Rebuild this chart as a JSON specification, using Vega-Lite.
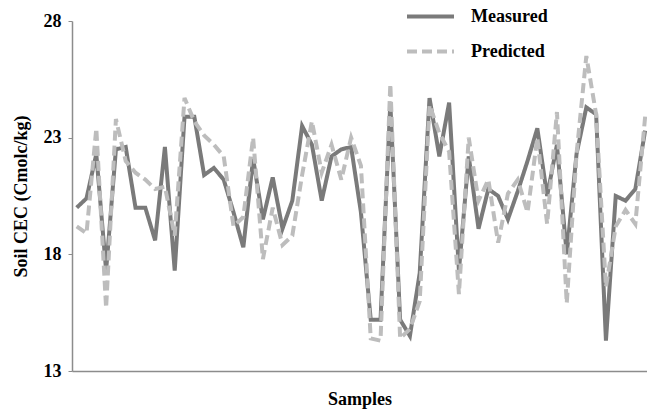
{
  "$schema": "https://vega.github.io/schema/vega-lite/v6.json",
  "width": 575,
  "height": 350,
  "autosize": {"type": "none"},
  "padding": {"left": 72, "top": 21, "right": 0, "bottom": 40},
  "background": "white",
  "config": {
    "view": {"stroke": null},
    "font": "Liberation Serif"
  },
  "datasets": {
    "cec": [
      {"sample": 1, "series": "Measured", "value": 20.0},
      {"sample": 2, "series": "Measured", "value": 20.4},
      {"sample": 3, "series": "Measured", "value": 22.3},
      {"sample": 4, "series": "Measured", "value": 17.3},
      {"sample": 5, "series": "Measured", "value": 22.5},
      {"sample": 6, "series": "Measured", "value": 22.6},
      {"sample": 7, "series": "Measured", "value": 20.0},
      {"sample": 8, "series": "Measured", "value": 20.0},
      {"sample": 9, "series": "Measured", "value": 18.6},
      {"sample": 10, "series": "Measured", "value": 22.6},
      {"sample": 11, "series": "Measured", "value": 17.3},
      {"sample": 12, "series": "Measured", "value": 23.9},
      {"sample": 13, "series": "Measured", "value": 23.9},
      {"sample": 14, "series": "Measured", "value": 21.4},
      {"sample": 15, "series": "Measured", "value": 21.7},
      {"sample": 16, "series": "Measured", "value": 21.2},
      {"sample": 17, "series": "Measured", "value": 19.8},
      {"sample": 18, "series": "Measured", "value": 18.3},
      {"sample": 19, "series": "Measured", "value": 22.1},
      {"sample": 20, "series": "Measured", "value": 19.5},
      {"sample": 21, "series": "Measured", "value": 21.3},
      {"sample": 22, "series": "Measured", "value": 19.1},
      {"sample": 23, "series": "Measured", "value": 20.3},
      {"sample": 24, "series": "Measured", "value": 23.5},
      {"sample": 25, "series": "Measured", "value": 22.7},
      {"sample": 26, "series": "Measured", "value": 20.3},
      {"sample": 27, "series": "Measured", "value": 22.2},
      {"sample": 28, "series": "Measured", "value": 22.5},
      {"sample": 29, "series": "Measured", "value": 22.6},
      {"sample": 30, "series": "Measured", "value": 19.8},
      {"sample": 31, "series": "Measured", "value": 15.2},
      {"sample": 32, "series": "Measured", "value": 15.2},
      {"sample": 33, "series": "Measured", "value": 24.5},
      {"sample": 34, "series": "Measured", "value": 15.2},
      {"sample": 35, "series": "Measured", "value": 14.5},
      {"sample": 36, "series": "Measured", "value": 17.2},
      {"sample": 37, "series": "Measured", "value": 24.7},
      {"sample": 38, "series": "Measured", "value": 22.2},
      {"sample": 39, "series": "Measured", "value": 24.5},
      {"sample": 40, "series": "Measured", "value": 17.3},
      {"sample": 41, "series": "Measured", "value": 22.2},
      {"sample": 42, "series": "Measured", "value": 19.1},
      {"sample": 43, "series": "Measured", "value": 20.8},
      {"sample": 44, "series": "Measured", "value": 20.5},
      {"sample": 45, "series": "Measured", "value": 19.5},
      {"sample": 46, "series": "Measured", "value": 20.7},
      {"sample": 47, "series": "Measured", "value": 22.0},
      {"sample": 48, "series": "Measured", "value": 23.4},
      {"sample": 49, "series": "Measured", "value": 20.5},
      {"sample": 50, "series": "Measured", "value": 22.7},
      {"sample": 51, "series": "Measured", "value": 18.0},
      {"sample": 52, "series": "Measured", "value": 22.3},
      {"sample": 53, "series": "Measured", "value": 24.3},
      {"sample": 54, "series": "Measured", "value": 24.0},
      {"sample": 55, "series": "Measured", "value": 14.3},
      {"sample": 56, "series": "Measured", "value": 20.5},
      {"sample": 57, "series": "Measured", "value": 20.3},
      {"sample": 58, "series": "Measured", "value": 20.8},
      {"sample": 59, "series": "Measured", "value": 23.3},
      {"sample": 1, "series": "Predicted", "value": 19.2},
      {"sample": 2, "series": "Predicted", "value": 18.9},
      {"sample": 3, "series": "Predicted", "value": 23.4},
      {"sample": 4, "series": "Predicted", "value": 15.7},
      {"sample": 5, "series": "Predicted", "value": 23.8},
      {"sample": 6, "series": "Predicted", "value": 22.0},
      {"sample": 7, "series": "Predicted", "value": 21.5},
      {"sample": 8, "series": "Predicted", "value": 21.2},
      {"sample": 9, "series": "Predicted", "value": 20.8},
      {"sample": 10, "series": "Predicted", "value": 20.9},
      {"sample": 11, "series": "Predicted", "value": 18.8},
      {"sample": 12, "series": "Predicted", "value": 24.7},
      {"sample": 13, "series": "Predicted", "value": 23.7},
      {"sample": 14, "series": "Predicted", "value": 23.1},
      {"sample": 15, "series": "Predicted", "value": 22.7},
      {"sample": 16, "series": "Predicted", "value": 22.2},
      {"sample": 17, "series": "Predicted", "value": 19.2},
      {"sample": 18, "series": "Predicted", "value": 19.6},
      {"sample": 19, "series": "Predicted", "value": 23.0},
      {"sample": 20, "series": "Predicted", "value": 17.8},
      {"sample": 21, "series": "Predicted", "value": 20.0},
      {"sample": 22, "series": "Predicted", "value": 18.4},
      {"sample": 23, "series": "Predicted", "value": 18.8},
      {"sample": 24, "series": "Predicted", "value": 21.4},
      {"sample": 25, "series": "Predicted", "value": 23.7},
      {"sample": 26, "series": "Predicted", "value": 21.5},
      {"sample": 27, "series": "Predicted", "value": 22.7},
      {"sample": 28, "series": "Predicted", "value": 21.2},
      {"sample": 29, "series": "Predicted", "value": 23.0},
      {"sample": 30, "series": "Predicted", "value": 21.8},
      {"sample": 31, "series": "Predicted", "value": 14.4},
      {"sample": 32, "series": "Predicted", "value": 14.3},
      {"sample": 33, "series": "Predicted", "value": 25.3},
      {"sample": 34, "series": "Predicted", "value": 14.4},
      {"sample": 35, "series": "Predicted", "value": 14.8},
      {"sample": 36, "series": "Predicted", "value": 16.0},
      {"sample": 37, "series": "Predicted", "value": 24.4},
      {"sample": 38, "series": "Predicted", "value": 23.2},
      {"sample": 39, "series": "Predicted", "value": 22.4},
      {"sample": 40, "series": "Predicted", "value": 16.3},
      {"sample": 41, "series": "Predicted", "value": 23.0},
      {"sample": 42, "series": "Predicted", "value": 20.3},
      {"sample": 43, "series": "Predicted", "value": 21.2},
      {"sample": 44, "series": "Predicted", "value": 18.5},
      {"sample": 45, "series": "Predicted", "value": 20.6},
      {"sample": 46, "series": "Predicted", "value": 21.2},
      {"sample": 47, "series": "Predicted", "value": 19.8},
      {"sample": 48, "series": "Predicted", "value": 23.0},
      {"sample": 49, "series": "Predicted", "value": 19.3},
      {"sample": 50, "series": "Predicted", "value": 24.1},
      {"sample": 51, "series": "Predicted", "value": 15.9},
      {"sample": 52, "series": "Predicted", "value": 22.3},
      {"sample": 53, "series": "Predicted", "value": 26.5},
      {"sample": 54, "series": "Predicted", "value": 24.0},
      {"sample": 55, "series": "Predicted", "value": 16.6},
      {"sample": 56, "series": "Predicted", "value": 19.2},
      {"sample": 57, "series": "Predicted", "value": 19.9},
      {"sample": 58, "series": "Predicted", "value": 19.3},
      {"sample": 59, "series": "Predicted", "value": 23.9}
    ]
  },
  "data": {"name": "cec"},
  "mark": {"type": "line", "strokeWidth": 4, "clip": false},
  "encoding": {
    "x": {
      "field": "sample",
      "type": "quantitative",
      "scale": {"domain": [0.52, 59.19], "nice": false, "zero": false},
      "axis": {
        "title": "Samples",
        "titleFont": "Liberation Serif",
        "titleFontWeight": "bold",
        "titleFontSize": 18,
        "titleColor": "black",
        "titlePadding": 19,
        "labels": false,
        "ticks": false,
        "grid": false,
        "domainColor": "#8c8c8c",
        "domainWidth": 1.5
      }
    },
    "y": {
      "field": "value",
      "type": "quantitative",
      "scale": {"domain": [13, 28], "nice": false, "zero": false},
      "axis": {
        "title": "Soil CEC (Cmolc/kg)",
        "titleFont": "Liberation Serif",
        "titleFontWeight": "bold",
        "titleFontSize": 18,
        "titleColor": "black",
        "titlePadding": 13,
        "values": [13, 18, 23, 28],
        "labelFont": "Liberation Serif",
        "labelFontWeight": "bold",
        "labelFontSize": 18,
        "labelColor": "black",
        "labelPadding": 7,
        "tickSize": 4,
        "tickColor": "#8c8c8c",
        "domainColor": "#8c8c8c",
        "domainWidth": 1.5,
        "grid": false
      }
    },
    "color": {
      "field": "series",
      "type": "nominal",
      "scale": {"domain": ["Measured", "Predicted"], "range": ["#7a7a7a", "#bdbdbd"]},
      "legend": {
        "title": null,
        "orient": "none",
        "legendX": 333,
        "legendY": -30,
        "symbolType": "stroke",
        "symbolSize": 2209,
        "symbolStrokeWidth": 4,
        "labelFont": "Liberation Serif",
        "labelFontWeight": "bold",
        "labelFontSize": 18,
        "labelColor": "black",
        "labelOffset": 15,
        "rowPadding": 0
      }
    },
    "strokeDash": {
      "field": "series",
      "type": "nominal",
      "scale": {"domain": ["Measured", "Predicted"], "range": [[1, 0], [10, 5]]},
      "legend": {
        "title": null,
        "orient": "none",
        "legendX": 333,
        "legendY": -30,
        "symbolType": "stroke",
        "symbolSize": 2209,
        "symbolStrokeWidth": 4,
        "labelFont": "Liberation Serif",
        "labelFontWeight": "bold",
        "labelFontSize": 18,
        "labelColor": "black",
        "labelOffset": 15,
        "rowPadding": 0
      }
    }
  }
}
